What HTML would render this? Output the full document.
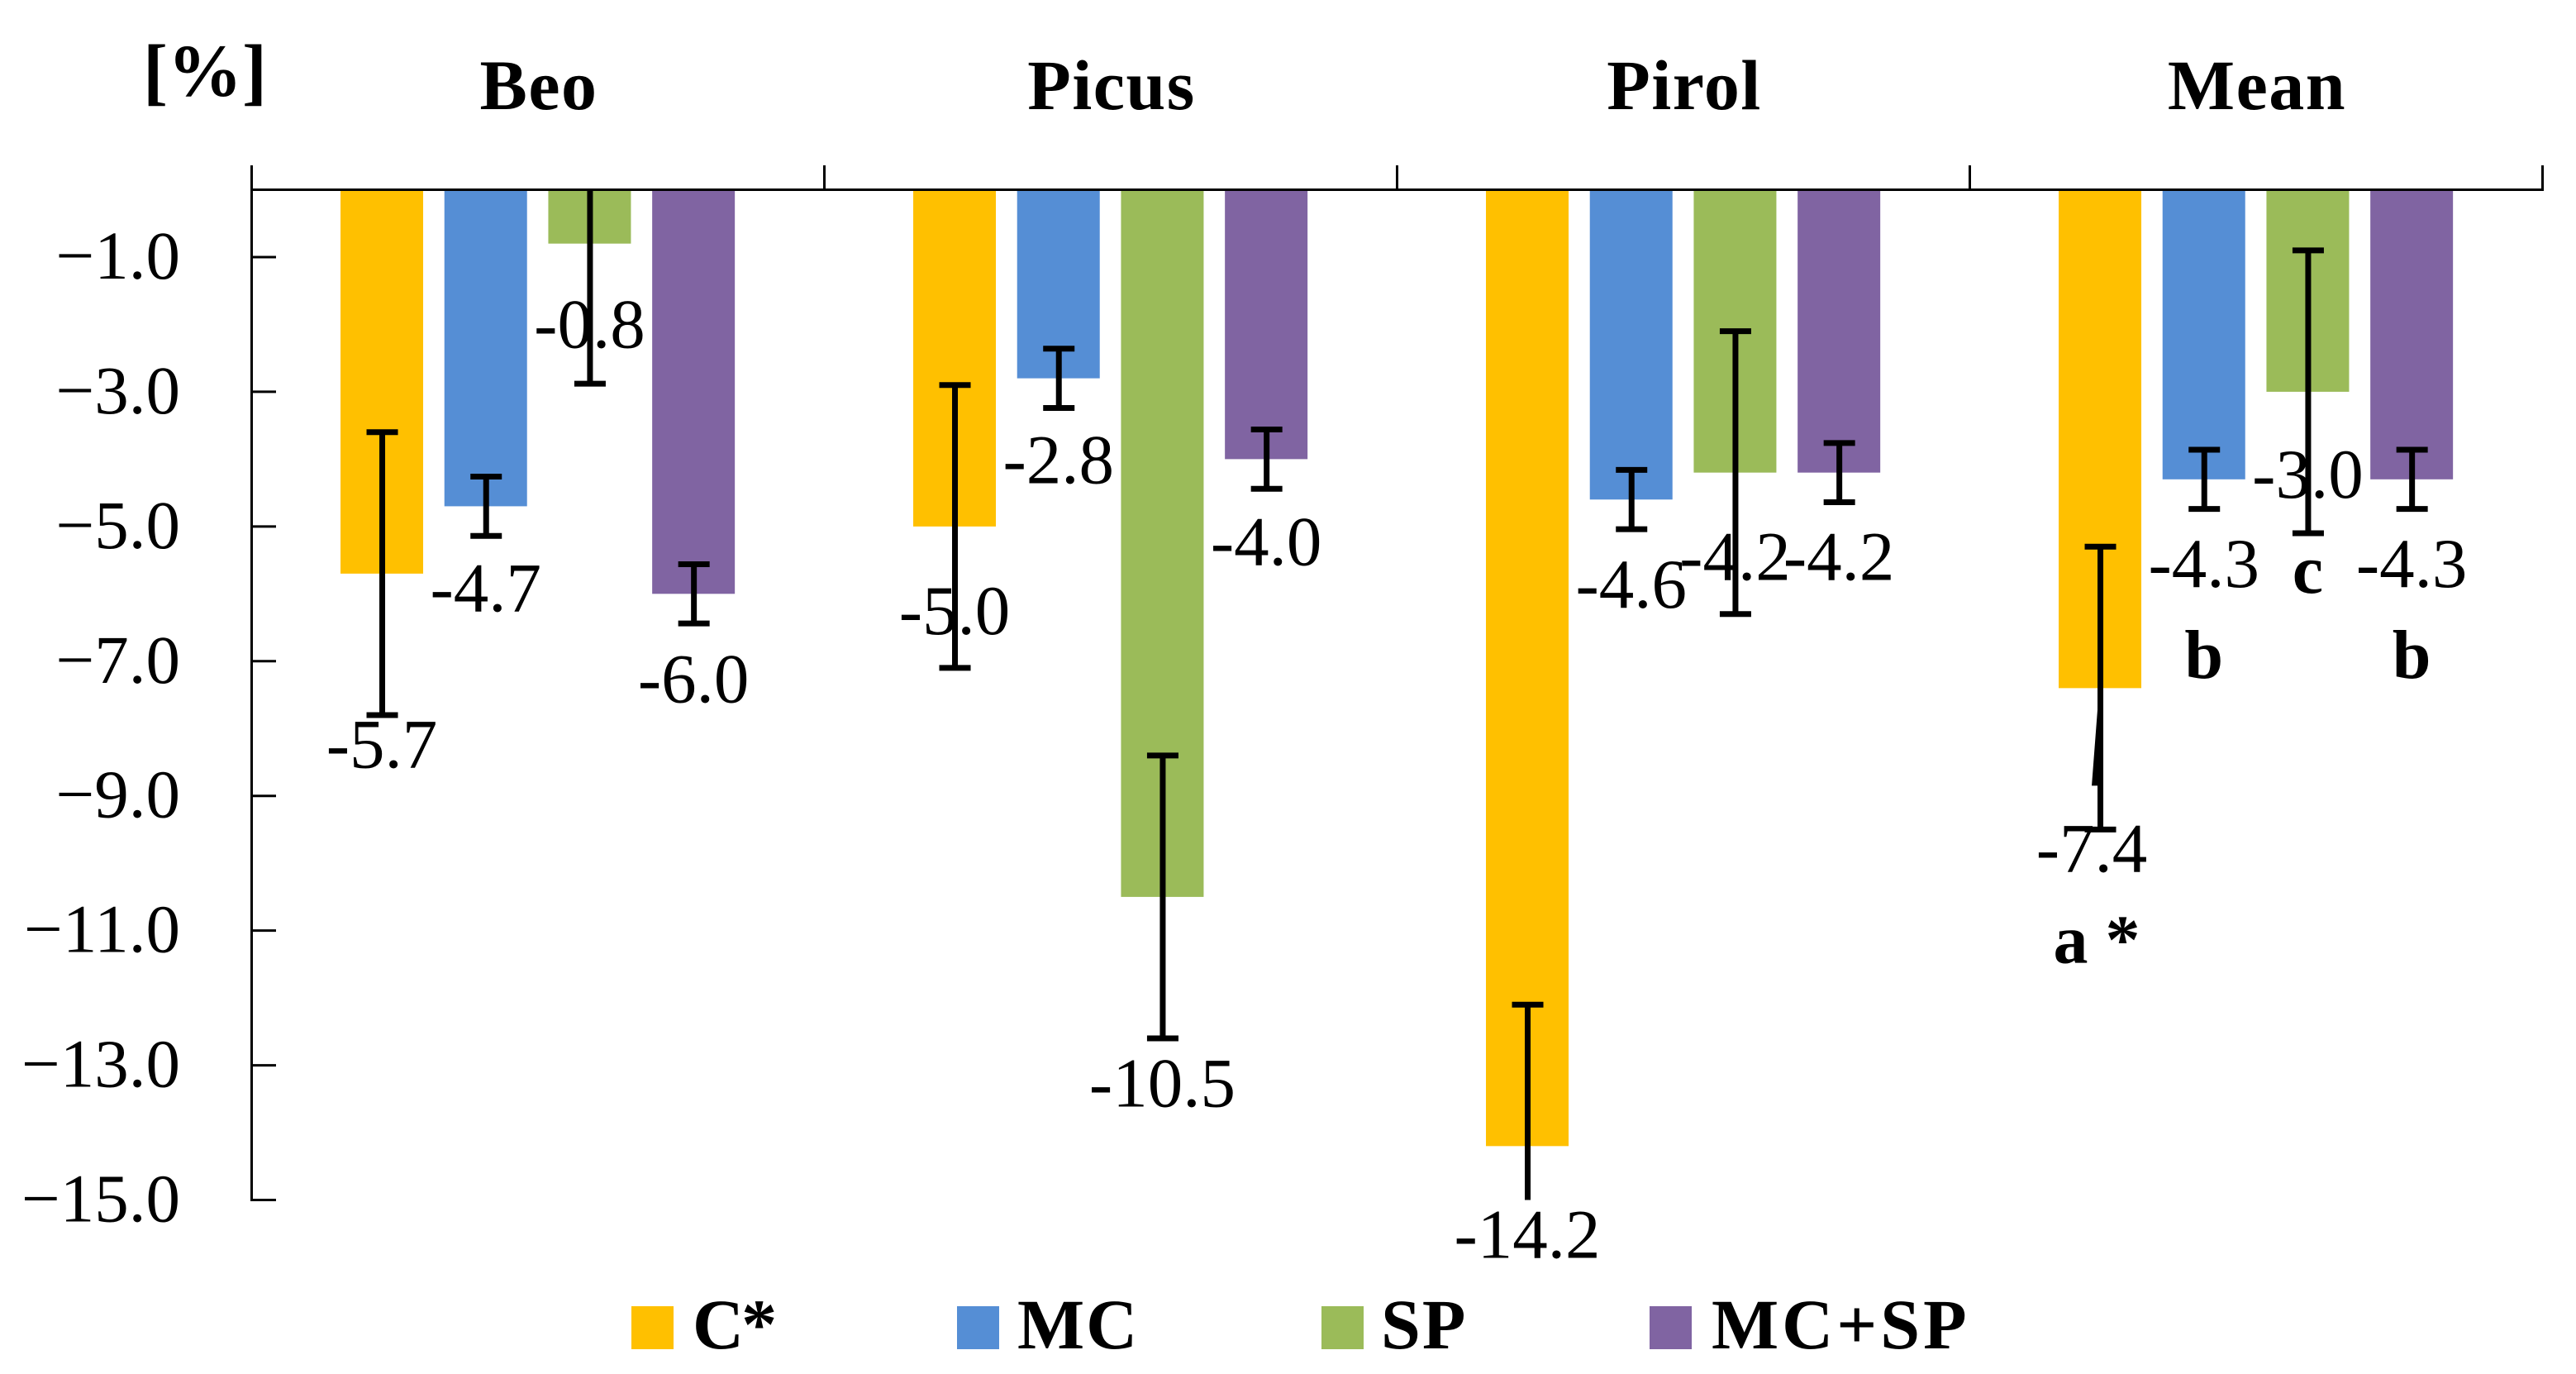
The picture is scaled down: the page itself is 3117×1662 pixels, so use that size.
<!DOCTYPE html>
<html lang="en">
<head>
<meta charset="utf-8">
<title>Percentage change by cultivar and treatment</title>
<style>
html,body{margin:0;padding:0;background:#fff;}
svg{display:block;}
text{font-family:"Liberation Serif",serif;fill:#000;}
.b{font-weight:bold;}
</style>
</head>
<body>
<svg id="chart" xmlns="http://www.w3.org/2000/svg" width="3117" height="1662" viewBox="0 0 3117 1662">
  <rect x="0" y="0" width="3117" height="1662" fill="#ffffff"/>
  <text class="b" x="173" y="116" font-size="90">[%]</text>
</svg>
<script>
const categories = ['Beo', 'Picus', 'Pirol', 'Mean'];
const seriesNames = ['C*', 'MC', 'SP', 'MC+SP'];
const seriesC = [-5.7, -5.0, -14.2, -7.4];
const seriesMC = [-4.7, -2.8, -4.6, -4.3];
const seriesSP = [-0.8, -10.5, -4.2, -3.0];
const seriesMCSP = [-6.0, -4.0, -4.2, -4.3];
const errorC = [2.1, 2.1, 2.1, 2.1];
const errorMC = [0.44, 0.44, 0.44, 0.44];
const errorSP = [2.08, 2.1, 2.1, 2.1];
const errorMCSP = [0.44, 0.44, 0.44, 0.44];
const tickValues = [-1, -3, -5, -7, -9, -11, -13, -15];
const meanLetters = ['a *', 'b', 'c', 'b'];

const NS = 'http://www.w3.org/2000/svg';
const svg = document.getElementById('chart');
const colors = ['#FFC000', '#558ED5', '#9BBB59', '#8064A2'];
const allValues = [seriesC, seriesMC, seriesSP, seriesMCSP];
const allErrors = [errorC, errorMC, errorSP, errorMCSP];
const labelDrops = [
  [234.6, 130, 135, 222],
  [127, 127, 131, 130],
  [126, 253.5, 130, 128],
  [131, 128, 130, 130]
];

const plot = { left: 304.5, right: 3076.5, top: 229.5, bottom: 1451.5, min: -15, max: 0 };
const groupWidth = (plot.right - plot.left) / categories.length;
const barWidth = 100;

function y(v) { return plot.top + (plot.max - v) / (plot.max - plot.min) * (plot.bottom - plot.top); }
function groupX(i) { return plot.left + groupWidth * i; }
function barCenter(i, j) { return groupX(i) + groupWidth * (0.2273 + 0.1814 * j); }
function clamp(v) { return Math.max(plot.min, Math.min(plot.max, v)); }

function make(tag, attrs, text) {
  const el = document.createElementNS(NS, tag);
  for (const k in attrs) el.setAttribute(k, attrs[k]);
  if (text !== undefined) el.textContent = text;
  svg.appendChild(el);
  return el;
}

categories.forEach((cat, i) => {
  const t = make('text', { x: groupX(i) + groupWidth / 2 + 1, y: 132, 'font-size': 86, 'text-anchor': 'middle', 'letter-spacing': 1.5, class: 'b' }, cat);
  
  
});

allValues.forEach((vals, j) => {
  vals.forEach((v, i) => {
    const r = make('rect', { x: barCenter(i, j) - barWidth / 2, y: y(0), width: barWidth, height: y(v) - y(0), fill: colors[j] });
    
    
  });
});

const leftAxis = make('line', { x1: plot.left, y1: 200, x2: plot.left, y2: plot.bottom + 1.5, stroke: '#000', 'stroke-width': 3 });



const zeroAxis = make('line', { x1: plot.left, y1: plot.top, x2: plot.right + 1.5, y2: plot.top, stroke: '#000', 'stroke-width': 3 });



[1, 2, 3, 4].forEach(i => {
  const tk = make('line', { x1: groupX(i), y1: 200, x2: groupX(i), y2: plot.top, stroke: '#000', 'stroke-width': 3 });
  
  
});

tickValues.forEach(v => {
  const tk = make('line', { x1: plot.left, y1: y(v), x2: plot.left + 29.5, y2: y(v), stroke: '#000', 'stroke-width': 3 });
  
  
  const lb = make('text', { x: 218, y: y(v) + 26, 'font-size': 83, 'text-anchor': 'end' }, '\u2212' + Math.abs(v).toFixed(1));
  
  
});

allValues.forEach((vals, j) => {
  vals.forEach((v, i) => {
    const cx = barCenter(i, j) + 0.5;
    const hi = v + allErrors[j][i];
    const lo = v - allErrors[j][i];
    const stem = make('line', { x1: cx, y1: y(clamp(hi)), x2: cx, y2: y(clamp(lo)), stroke: '#000', 'stroke-width': 7 });
    
    
    [hi, lo].forEach(e => {
      if (e !== clamp(e)) return;
      const cap = make('line', { x1: cx - 19, y1: y(e), x2: cx + 19, y2: y(e), stroke: '#000', 'stroke-width': 7 });
      
      
    });
  });
});

const leaderCx = barCenter(3, 0);
const leaderTop = y(seriesC[3]);
const leader = make('polygon', { points: (leaderCx - 1) + ',' + leaderTop + ' ' + (leaderCx + 2) + ',' + leaderTop + ' ' + (leaderCx - 1) + ',' + (leaderTop + 118) + ' ' + (leaderCx - 10) + ',' + (leaderTop + 118), fill: '#000' });



allValues.forEach((vals, j) => {
  vals.forEach((v, i) => {
    const shift = (j === 0 && i === 3) ? -10 : 0;
    const lb = make('text', { x: barCenter(i, j) + shift, y: y(v) + labelDrops[j][i], 'font-size': 85, 'text-anchor': 'middle' }, v.toFixed(1));
    
    
  });
});

meanLetters.forEach((letter, j) => {
  const shift = j === 0 ? -4 : 0;
  const lb = make('text', { x: barCenter(3, j) + shift, y: y(allValues[j][3]) + labelDrops[j][3] + (j === 2 ? 115 : 110), 'font-size': 84, 'text-anchor': 'middle', class: 'b' }, letter);
  
  
});

const legendSwatchX = [764, 1158, 1599, 1996];
const legendTextX = [838, 1231, 1671, 2071];
const legendSpacing = [-3, 2, 2, 4];
seriesNames.forEach((name, j) => {
  const sw = make('rect', { x: legendSwatchX[j], y: 1580, width: 51, height: 52, fill: colors[j] });
  
  
  const tx = make('text', { x: legendTextX[j], y: 1631, 'font-size': 86, class: 'b', 'letter-spacing': legendSpacing[j] }, name);
  
  
});
</script>
</body>
</html>
